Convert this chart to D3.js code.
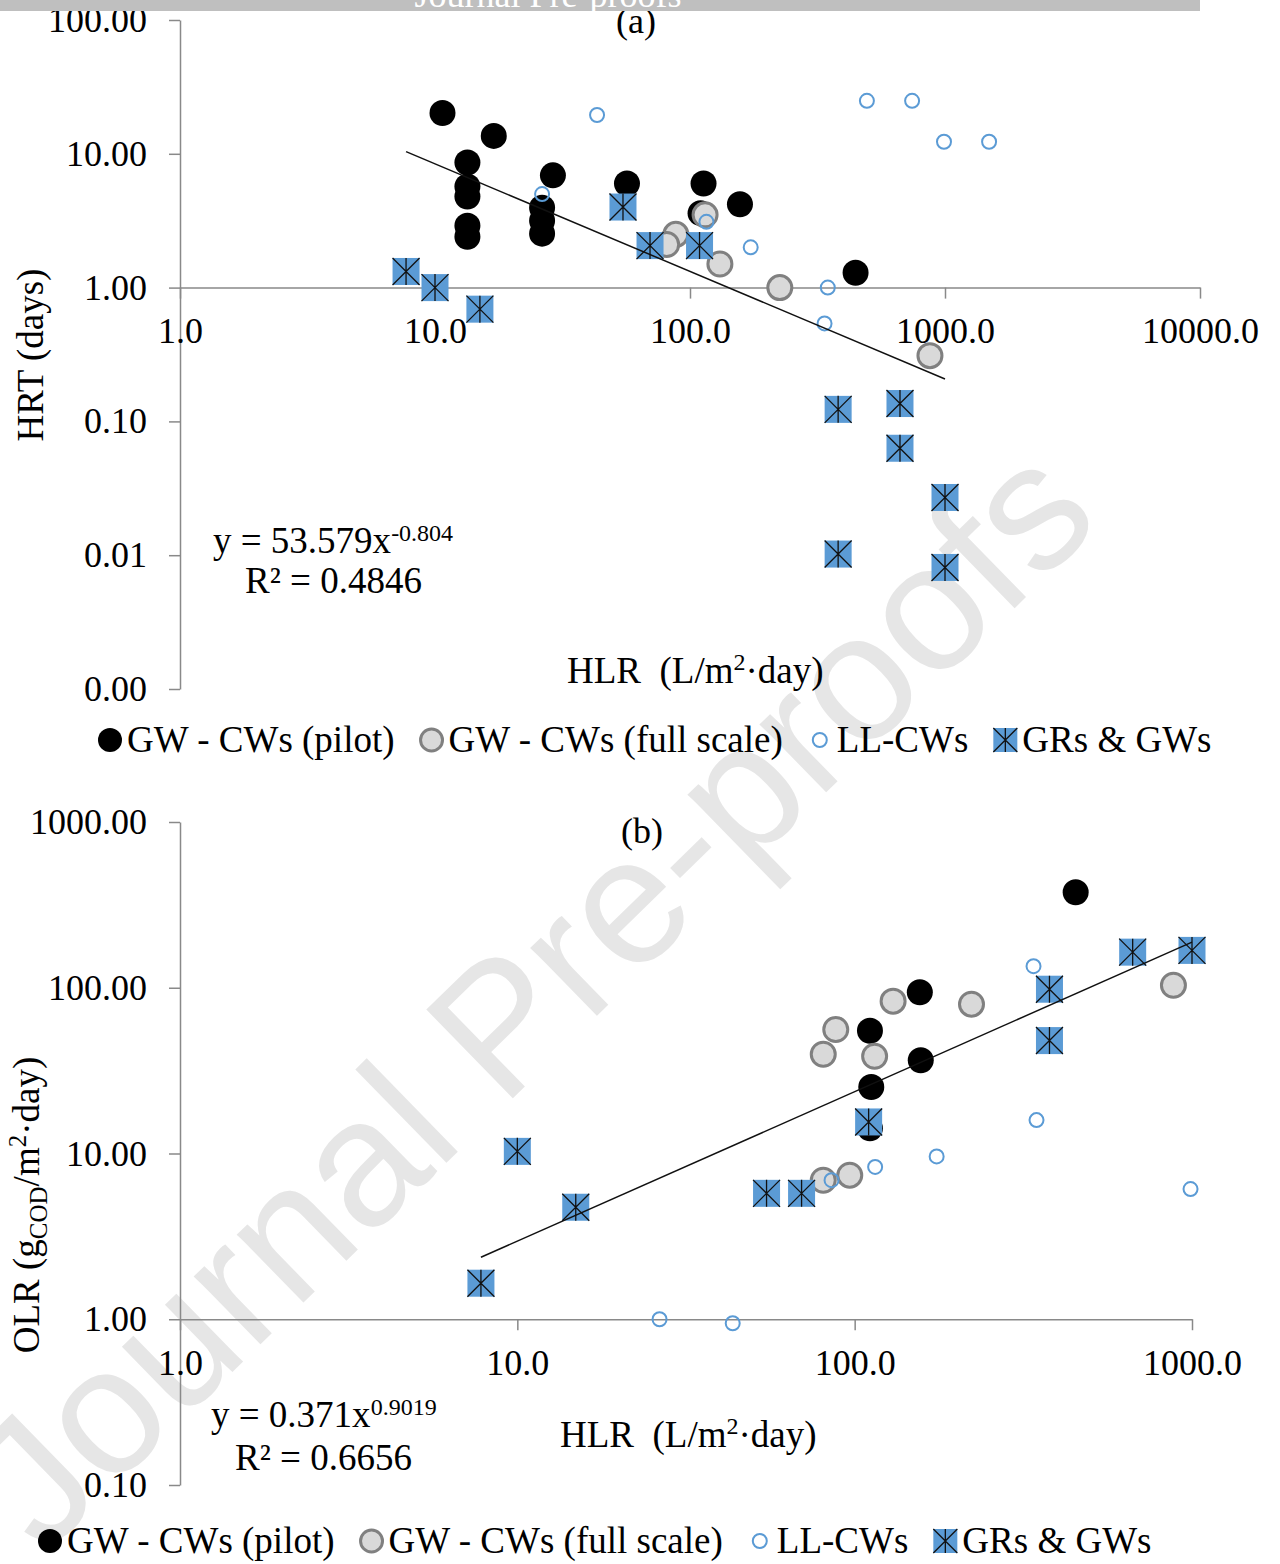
<!DOCTYPE html>
<html>
<head>
<meta charset="utf-8">
<script src="https://cdn.jsdelivr.net/npm/d3@7"></script>
<style>
body { margin: 0; background: #fff; }
svg { display: block; }
</style>
</head>
<body>
<div id="chart"></div>
<script>
var W = 1280, H = 1564;
var FONT = "'Liberation Serif', 'Times New Roman', serif";

// panel (a): HLR (L/m2.day) vs HRT (days)
var aPilot = [[10.7, 20.2], [17.0, 13.6], [13.4, 8.6], [13.4, 5.7], [13.4, 4.8], [13.4, 2.9], [13.4, 2.4],
  [26.3, 3.95], [26.3, 3.16], [26.3, 2.53], [29.0, 6.9], [56.6, 6.0], [113, 6.0], [110, 3.6], [157, 4.2], [446, 1.29]];
var aFull = [[114.6, 3.5], [88, 2.5], [81, 2.1], [131, 1.5], [225, 1.0], [873, 0.31]];
var aLL = [[43.2, 19.5], [26.3, 5.0], [494, 24.9], [743, 24.9], [991, 12.3], [1489, 12.3],
  [116, 3.1], [173, 2.0], [347, 1.0], [337, 0.54]];
var aGR = [[7.7, 1.32], [10, 1.0], [15, 0.69], [54.6, 4.0], [69.7, 2.06], [109, 2.06],
  [381, 0.123], [666, 0.136], [666, 0.063], [1000, 0.027], [381, 0.0102], [1000, 0.0081]];

// panel (b): HLR (L/m2.day) vs OLR (gCOD/m2.day)
var bPilot = [[452, 377], [156, 94], [111, 55], [157, 36.5], [112, 25.2], [111, 14.2]];
var bFull = [[130, 83], [222, 79.6], [87.9, 56], [80.7, 39.7], [114.6, 38.6], [881, 103.5], [80.7, 6.9], [96.7, 7.4]];
var bLL = [[339, 135], [346, 15.9], [175, 9.6], [115, 8.3], [85.4, 6.9], [990, 6.1], [26.4, 1.0], [43.5, 0.946]];
var bGR = [[1000, 168], [667, 164], [378, 98], [378, 48], [110, 15.5], [10, 10.3], [14.9, 4.74], [7.8, 1.65],
  [54.8, 5.75], [69.6, 5.75]];

var aXTicks = [1, 10, 100, 1000, 10000];
var aYTicks = [100, 10, 1, 0.1, 0.01, 0.001];
var bXTicks = [1, 10, 100, 1000];
var bYTicks = [1000, 100, 10, 1, 0.1];

var aFit = {k: 53.579, p: -0.804, kTxt: "53.579", pTxt: "-0.804", r2: "0.4846"};
var bFit = {k: 0.371, p: 0.9019, kTxt: "0.371", pTxt: "0.9019", r2: "0.6656"};

var seriesKinds = ["pilot", "full", "ll", "gr"];
var seriesNames = ["GW - CWs (pilot)", "GW - CWs (full scale)", "LL-CWs", "GRs & GWs"];

var svg = d3.select("#chart").append("svg")
  .attr("width", W).attr("height", H)
  .attr("font-family", FONT);

// watermark behind everything
svg.append("text")
  .attr("transform", "translate(536,1000) rotate(-44.3)")
  .attr("text-anchor", "middle")
  .attr("dy", "0.3em")
  .attr("font-family", "'Liberation Sans', Arial, sans-serif")
  .attr("font-size", 180)
  .attr("fill", "#e6e6e6")
  .text("Journal Pre-proofs");

function drawMarker(m, kind, small) {
  if (kind === "pilot") {
    m.append("circle").attr("r", small ? 12 : 13).attr("fill", "#000");
  } else if (kind === "full") {
    m.append("circle").attr("r", small ? 11 : 12).attr("fill", "#d9d9d9")
      .attr("stroke", "#808080").attr("stroke-width", 3);
  } else if (kind === "ll") {
    m.append("circle").attr("r", 7).attr("fill", "none")
      .attr("stroke", "#5b9bd5").attr("stroke-width", 2);
  } else {
    var h = small ? 12 : 13.5;
    m.append("rect").attr("x", -h).attr("y", -h).attr("width", 2 * h).attr("height", 2 * h)
      .attr("fill", "#5b9bd5");
    m.append("path")
      .attr("d", "M" + (-h) + "," + (-h) + "L" + h + "," + h + "M" + h + "," + (-h) + "L" + (-h) + "," + h +
        "M0," + (-h) + "V" + h)
      .attr("stroke", "#111").attr("stroke-width", 1.3).attr("fill", "none");
  }
}

function panel(o) {
  var x = d3.scaleLog().domain(d3.extent(o.xTicks)).range([180, o.xRight]);
  var y = d3.scaleLog().domain(d3.extent(o.yTicks)).range([o.yBottom, o.yTop]);
  var g = svg.append("g");

  g.append("g").attr("transform", "translate(180,0)")
    .call(d3.axisLeft(y).tickValues(o.yTicks).tickFormat(d3.format(".2f"))
      .tickSize(11).tickSizeOuter(0).tickPadding(22));
  g.append("g").attr("transform", "translate(0," + y(1) + ")")
    .call(d3.axisBottom(x).tickValues(o.xTicks).tickFormat(d3.format(".1f"))
      .tickSize(11).tickSizeOuter(0).tickPadding(19));
  g.selectAll(".domain, .tick line").attr("stroke", "#898989").attr("stroke-width", 1.5);
  g.selectAll(".tick text").attr("font-family", FONT).attr("font-size", 36).attr("fill", "#000");

  // points, in Excel series order
  o.data.forEach(function(arr, i) {
    g.append("g").selectAll("g").data(arr).join("g")
      .attr("transform", function(d) { return "translate(" + x(d[0]) + "," + y(d[1]) + ")"; })
      .each(function() { drawMarker(d3.select(this), seriesKinds[i], false); });
  });

  // power trendline fitted on the non LL-CW series
  var ext = d3.extent(d3.merge([o.data[0], o.data[1], o.data[3]]), function(d) { return d[0]; });
  var fitPts = ext.map(function(v) { return [v, o.fit.k * Math.pow(v, o.fit.p)]; });
  g.append("path").datum(fitPts)
    .attr("d", d3.line().x(function(d) { return x(d[0]); }).y(function(d) { return y(d[1]); }))
    .attr("stroke", "#111").attr("stroke-width", 1.5).attr("fill", "none");

  // panel letter
  g.append("text").attr("x", o.letterX).attr("y", o.letterY).attr("text-anchor", "middle")
    .attr("font-size", 36).text(o.letter);

  // equation
  var t1 = g.append("text").attr("x", o.eqX).attr("y", o.eqY).attr("font-size", 37);
  t1.append("tspan").text("y = " + o.fit.kTxt + "x");
  t1.append("tspan").attr("font-size", 24).attr("dy", -12).text(o.fit.pTxt);
  g.append("text").attr("x", o.eqX + o.r2dx).attr("y", o.eqY + o.r2dy).attr("font-size", 37)
    .text("R² = " + o.fit.r2);

  // x title
  var xt = g.append("text").attr("x", o.xTitleX).attr("y", o.xTitleY).attr("font-size", 37)
    .style("white-space", "pre");
  xt.append("tspan").text("HLR  (L/m");
  xt.append("tspan").attr("font-size", 24).attr("dy", -13).text("2");
  xt.append("tspan").attr("dy", 13).text("·day)");

  // y title
  var yt = g.append("text").attr("transform", "translate(" + o.yTitleX + "," + o.yTitleY + ") rotate(-90)")
    .attr("text-anchor", "middle").attr("dy", "0.35em").attr("font-size", 37);
  o.yTitle(yt);

  // legend
  var lg = g.append("g");
  var cx = o.legX;
  seriesKinds.forEach(function(k, i) {
    drawMarker(lg.append("g").attr("transform", "translate(" + cx + "," + (o.legY - 12) + ")"), k, true);
    var t = lg.append("text").attr("x", cx + 17).attr("y", o.legY).attr("font-size", 37).text(seriesNames[i]);
    cx = cx + 17 + t.node().getComputedTextLength() + 37;
  });
}

panel({
  xTicks: aXTicks, yTicks: aYTicks, xRight: 1200, yTop: 20, yBottom: 689,
  data: [aPilot, aFull, aLL, aGR], fit: aFit,
  letter: "(a)", letterX: 636, letterY: 33,
  eqX: 213, eqY: 553, r2dx: 32, r2dy: 40,
  xTitleX: 567, xTitleY: 683,
  yTitleX: 30, yTitleY: 355,
  yTitle: function(t) { t.text("HRT (days)"); },
  legX: 110, legY: 752
});

panel({
  xTicks: bXTicks, yTicks: bYTicks, xRight: 1192, yTop: 822, yBottom: 1485,
  data: [bPilot, bFull, bLL, bGR], fit: bFit,
  letter: "(b)", letterX: 642, letterY: 843,
  eqX: 211, eqY: 1427, r2dx: 24, r2dy: 43,
  xTitleX: 560, xTitleY: 1447,
  yTitleX: 26, yTitleY: 1205,
  yTitle: function(t) {
    t.append("tspan").text("OLR (g");
    t.append("tspan").attr("font-size", 25).attr("dy", 8).text("COD");
    t.append("tspan").attr("dy", -8).text("/m");
    t.append("tspan").attr("font-size", 25).attr("dy", -13).text("2");
    t.append("tspan").attr("dy", 13).text("·day)");
  },
  legX: 50, legY: 1553
});

// grey header strip, drawn last so it covers the top of "(a)" as in the page scan
svg.append("clipPath").attr("id", "bar").append("rect")
  .attr("x", 0).attr("y", 0).attr("width", 1200).attr("height", 11);
svg.append("rect").attr("x", 0).attr("y", 0).attr("width", 1200).attr("height", 11).attr("fill", "#bfbfbf");
svg.append("text").attr("clip-path", "url(#bar)")
  .attr("x", 548).attr("y", 7).attr("text-anchor", "middle")
  .attr("font-size", 36).attr("fill", "#fff")
  .text("Journal Pre-proofs");
</script>
</body>
</html>
